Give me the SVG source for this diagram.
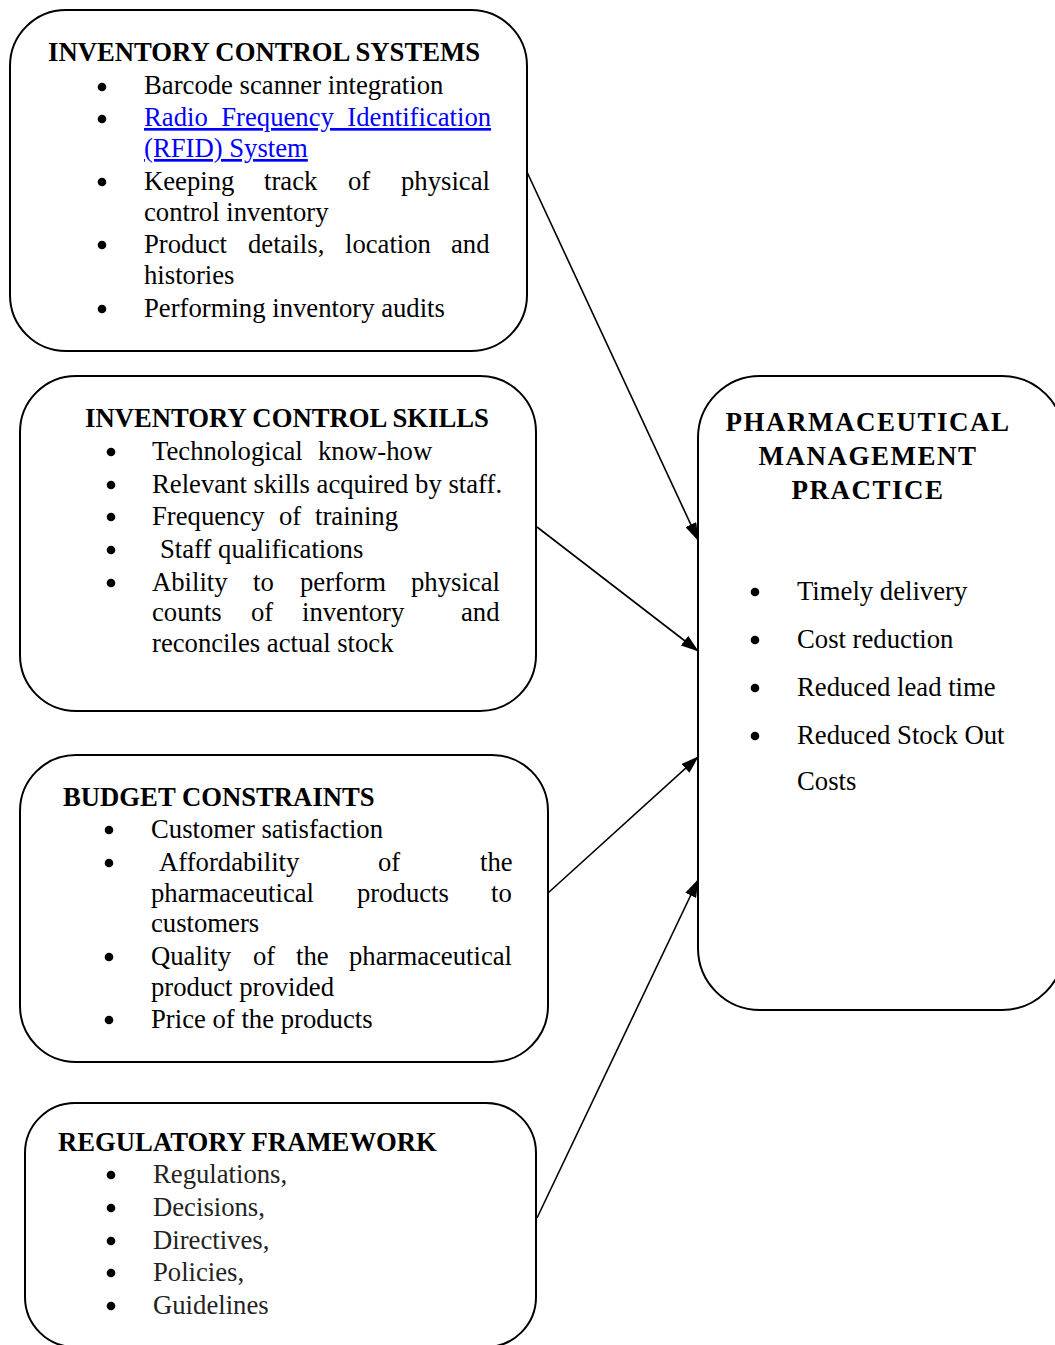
<svg xmlns="http://www.w3.org/2000/svg" width="1055" height="1345" viewBox="0 0 1055 1345">
<style>
.box{fill:#fff;stroke:#000;stroke-width:2}
text{font-family:"Liberation Serif","Times New Roman",serif;font-size:26.7px;fill:#000}
.t{font-weight:bold}
.rt{font-weight:bold;font-size:27px;letter-spacing:1.5px}
.link{fill:#0000ff;text-decoration:underline}
.g{fill:#222}
.b{fill:#000}
.conn{stroke:#000;stroke-width:1.6;fill:none}
</style>
<defs>
<marker id="ah" markerWidth="18" markerHeight="12" refX="17" refY="6" orient="auto" markerUnits="userSpaceOnUse">
<path d="M0,0 L18,6 L0,12 Z" fill="#000"/>
</marker>
</defs>
<rect width="1055" height="1345" fill="#fff"/>

<g id="connectors">
<line class="conn" x1="527" y1="172" x2="698" y2="540" marker-end="url(#ah)"/>
<line class="conn" x1="537" y1="527" x2="698" y2="651" marker-end="url(#ah)"/>
<line class="conn" x1="548" y1="893" x2="698" y2="757" marker-end="url(#ah)"/>
<line class="conn" x1="537" y1="1218" x2="698" y2="880" marker-end="url(#ah)"/>
</g>

<g id="systems">
<rect class="box" x="10" y="10" width="517" height="341" rx="56"/>
<text class="t" x="48" y="61">INVENTORY CONTROL SYSTEMS</text>
<circle class="b" cx="102" cy="87" r="4.3"/>
<circle class="b" cx="102" cy="119" r="4.3"/>
<circle class="b" cx="102" cy="182" r="4.3"/>
<circle class="b" cx="102" cy="245" r="4.3"/>
<circle class="b" cx="102" cy="309" r="4.3"/>
<text x="144" y="94">Barcode scanner integration</text>
<text class="link" x="144" y="126" word-spacing="6.8">Radio Frequency Identification</text>
<text class="link" x="144" y="157">(RFID) System</text>
<text y="190"><tspan x="144">Keeping</tspan><tspan x="264">track</tspan><tspan x="348">of</tspan><tspan x="401">physical</tspan></text>
<text x="144" y="221">control inventory</text>
<text y="253"><tspan x="144">Product</tspan><tspan x="248">details,</tspan><tspan x="345">location</tspan><tspan x="451">and</tspan></text>
<text x="144" y="284">histories</text>
<text x="144" y="317">Performing inventory audits</text>
</g>

<g id="skills">
<rect class="box" x="20" y="376" width="516" height="335" rx="56"/>
<text class="t" x="85" y="427">INVENTORY CONTROL SKILLS</text>
<circle class="b" cx="111" cy="452" r="4.3"/>
<circle class="b" cx="111" cy="485" r="4.3"/>
<circle class="b" cx="111" cy="517" r="4.3"/>
<circle class="b" cx="111" cy="550" r="4.3"/>
<circle class="b" cx="111" cy="583" r="4.3"/>
<text y="460"><tspan x="152">Technological</tspan><tspan x="318">know-how</tspan></text>
<text x="152" y="493">Relevant skills acquired by staff.</text>
<text y="525"><tspan x="152">Frequency</tspan><tspan x="279">of</tspan><tspan x="315">training</tspan></text>
<text x="160" y="558">Staff qualifications</text>
<text y="591"><tspan x="152">Ability</tspan><tspan x="253">to</tspan><tspan x="300">perform</tspan><tspan x="411">physical</tspan></text>
<text y="621"><tspan x="152">counts</tspan><tspan x="251">of</tspan><tspan x="302">inventory</tspan><tspan x="461">and</tspan></text>
<text x="152" y="652">reconciles actual stock</text>
</g>

<g id="budget">
<rect class="box" x="20" y="755" width="528" height="307" rx="56"/>
<text class="t" x="63" y="806">BUDGET CONSTRAINTS</text>
<circle class="b" cx="109" cy="830" r="4.3"/>
<circle class="b" cx="109" cy="863" r="4.3"/>
<circle class="b" cx="109" cy="957" r="4.3"/>
<circle class="b" cx="109" cy="1020" r="4.3"/>
<text x="151" y="838">Customer satisfaction</text>
<text y="871"><tspan x="159">Affordability</tspan><tspan x="378">of</tspan><tspan x="480">the</tspan></text>
<text y="902"><tspan x="151">pharmaceutical</tspan><tspan x="357">products</tspan><tspan x="491">to</tspan></text>
<text x="151" y="932">customers</text>
<text y="965"><tspan x="151">Quality</tspan><tspan x="253">of</tspan><tspan x="296">the</tspan><tspan x="349">pharmaceutical</tspan></text>
<text x="151" y="996">product provided</text>
<text x="151" y="1028">Price of the products</text>
</g>

<g id="regulatory">
<rect class="box" x="25" y="1103" width="511" height="244" rx="50"/>
<text class="t" x="58" y="1151">REGULATORY FRAMEWORK</text>
<circle class="b" cx="111" cy="1175" r="4.3"/>
<circle class="b" cx="111" cy="1208" r="4.3"/>
<circle class="b" cx="111" cy="1241" r="4.3"/>
<circle class="b" cx="111" cy="1273" r="4.3"/>
<circle class="b" cx="111" cy="1306" r="4.3"/>
<text class="g" x="153" y="1183">Regulations,</text>
<text class="g" x="153" y="1216">Decisions,</text>
<text class="g" x="153" y="1249">Directives,</text>
<text class="g" x="153" y="1281">Policies,</text>
<text class="g" x="153" y="1314">Guidelines</text>
</g>

<g id="practice">
<rect class="box" x="698" y="376" width="366" height="634" rx="62"/>
<text class="rt" x="868" y="431" text-anchor="middle">PHARMACEUTICAL</text>
<text class="rt" x="868" y="465" text-anchor="middle">MANAGEMENT</text>
<text class="rt" x="868" y="499" text-anchor="middle">PRACTICE</text>
<circle class="b" cx="755" cy="592" r="4.3"/>
<circle class="b" cx="755" cy="640" r="4.3"/>
<circle class="b" cx="755" cy="688" r="4.3"/>
<circle class="b" cx="755" cy="736" r="4.3"/>
<text x="797" y="600">Timely delivery</text>
<text x="797" y="648">Cost reduction</text>
<text x="797" y="696">Reduced lead time</text>
<text x="797" y="744">Reduced Stock Out</text>
<text x="797" y="790">Costs</text>
</g>
</svg>
